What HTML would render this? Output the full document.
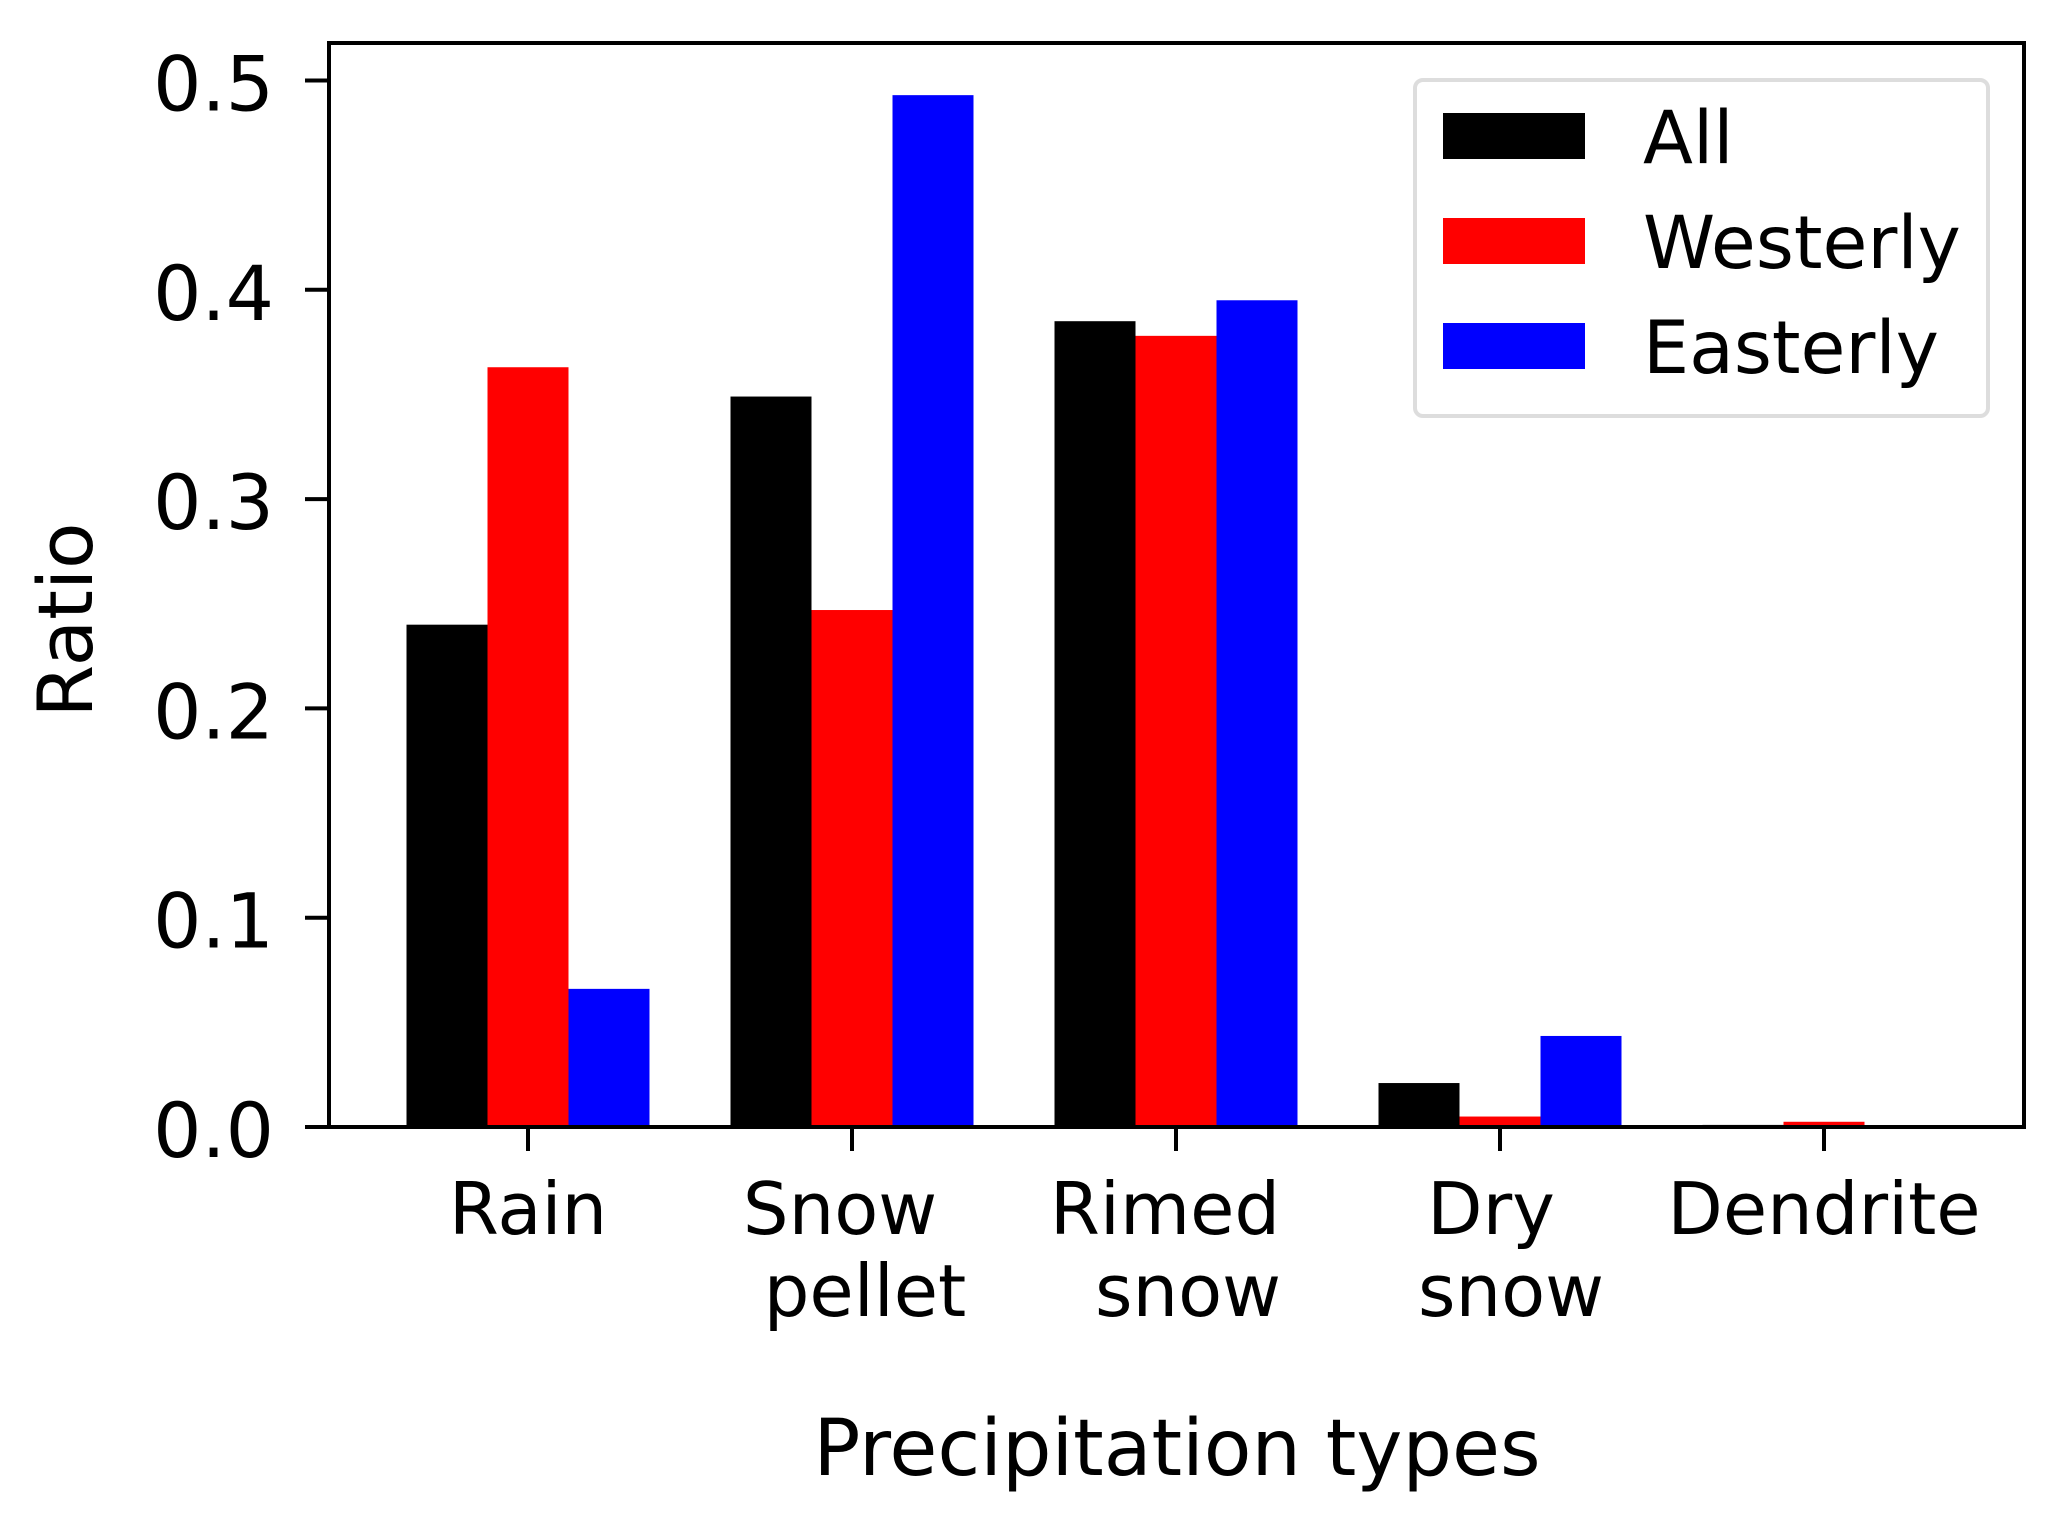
<!DOCTYPE html>
<html><head><meta charset="utf-8"><style>
html,body{margin:0;padding:0;background:#fff;}
svg{display:block;}
text{font-family:"DejaVu Sans","Liberation Sans",sans-serif;fill:#000;}
</style></head><body>
<svg id="chart" width="2066" height="1515" viewBox="0 0 2066 1515" xmlns="http://www.w3.org/2000/svg"></svg>
<script>
const categories = [["Rain"],["Snow","pellet"],["Rimed","snow"],["Dry","snow"],["Dendrite"]];
const seriesNames = ["All","Westerly","Easterly"];
const allValues = [0.240, 0.349, 0.385, 0.021, 0.001];
const westerlyValues = [0.363, 0.247, 0.378, 0.005, 0.0025];
const easterlyValues = [0.066, 0.493, 0.395, 0.0435, 0.0];
const yTicks = [0.0, 0.1, 0.2, 0.3, 0.4, 0.5];
const yTickLabels = ["0.0","0.1","0.2","0.3","0.4","0.5"];

const NS = "http://www.w3.org/2000/svg";
const svg = document.getElementById("chart");
const L = 329, R = 2024, T = 43, B = 1127;
const colors = ["#000000","#ff0000","#0000ff"];
const series = [allValues, westerlyValues, easterlyValues];
const yScale = v => B - v * 2093;
const xScale = i => 528 + 324 * i;
const barW = 81;
const lineOffsets = [[0],[-12,13],[-11,12],[-9,11],[0]];

function mk(tag, attrs, parent) {
  const e = document.createElementNS(NS, tag);
  for (const k in attrs) e.setAttribute(k, attrs[k]);
  (parent || svg).appendChild(e);
  return e;
}

series.forEach((vals, s) => {
  const g = mk("g", {});
  
  
  vals.forEach((v, i) => {
    const cx = xScale(i) + (s - 1) * barW;
    const y = yScale(v);
    const r = mk("rect", {x: cx - barW/2, y: y, width: barW, height: B - y, fill: colors[s]}, g);
    
    
  });
});

const frame = mk("rect", {x: L, y: T, width: R - L, height: B - T, fill: "none", stroke: "#000", "stroke-width": 4});



yTicks.forEach((t, i) => {
  const y = yScale(t);
  const tk = mk("line", {x1: L - 24, x2: L, y1: y, y2: y, stroke: "#000", "stroke-width": 4});
  
  
  const lb = mk("text", {x: L - 55, y: y + 30, "text-anchor": "end", "font-size": 76});
  lb.textContent = yTickLabels[i];
  
  
});

categories.forEach((lines, i) => {
  const x = xScale(i);
  const tk = mk("line", {x1: x, x2: x, y1: B, y2: B + 24, stroke: "#000", "stroke-width": 4});
  
  
  lines.forEach((ln, j) => {
    const lb = mk("text", {x: x + lineOffsets[i][j], y: 1234 + j * 82, "text-anchor": "middle", "font-size": 72});
    lb.textContent = ln;
    
    
  });
});

const yt = mk("text", {x: 0, y: 0, "text-anchor": "middle", "font-size": 76, transform: "translate(92,620) rotate(-90)"});
yt.textContent = "Ratio";


const xt = mk("text", {x: 1177, y: 1475, "text-anchor": "middle", "font-size": 78});
xt.textContent = "Precipitation types";



const lg = mk("g", {});


mk("rect", {x: 1415, y: 80, width: 573, height: 336, rx: 8, fill: "#fff", stroke: "#dddddd", "stroke-width": 4}, lg);
seriesNames.forEach((n, s) => {
  const y = 113 + s * 105;
  const p = mk("rect", {x: 1443, y: y, width: 142, height: 46, fill: colors[s]}, lg);
  
  
  const t = mk("text", {x: 1643, y: y + 50, "font-size": 73}, lg);
  t.textContent = n;
  
  
});
</script>
</body></html>
